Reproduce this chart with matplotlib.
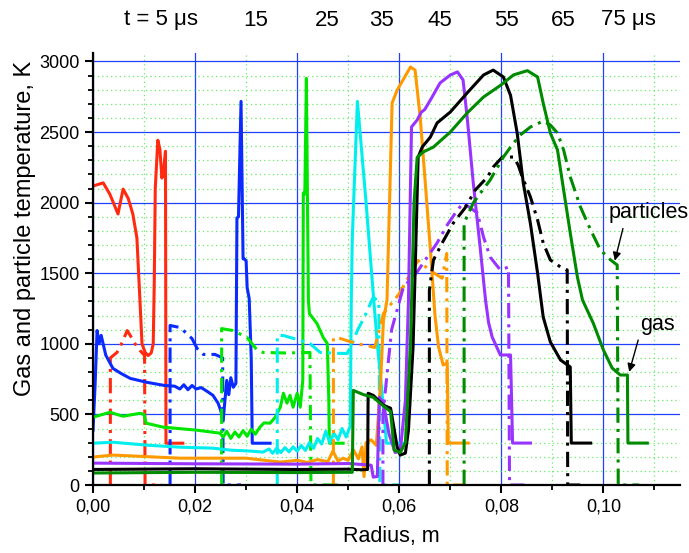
"""
Gas and particle temperature profiles vs radius at t = 5 ... 75 us.
gas = solid lines, particles = dash-dot lines
"""

import matplotlib
matplotlib.use("Agg")
import matplotlib.pyplot as plt
from matplotlib import font_manager
from matplotlib.ticker import MultipleLocator, FuncFormatter

plt.rcParams["font.family"] = ["Liberation Sans", "DejaVu Sans"]

# ---- data (radius in m, temperature in K) ----
times = ["5", "15", "25", "35", "45", "55", "65", "75"]
colors = ["#ff2a10", "#0a2aff", "#00e600", "#00eeee",
          "#ff9900", "#9933ff", "#000000", "#008a00"]

gas_x_05 = [0.0, 0.0020, 0.0033, 0.0049, 0.0059, 0.0069, 0.0078, 0.0086, 0.0092, 0.0096, 0.0102,
            0.0108, 0.0114, 0.0118, 0.0120, 0.0122, 0.0127, 0.0131, 0.0135, 0.0139, 0.0142,
            0.0143, 0.0176]
gas_T_05 = [2118, 2140, 2060, 1920, 2096, 2030, 1920, 1750, 1305, 1000, 940,
            917, 935, 1000, 1430, 2100, 2442, 2380, 2174, 2250, 2364,
            296, 296]
part_x_05 = [0.0034, 0.0034, 0.0047, 0.0057, 0.0067, 0.0073, 0.0082, 0.0092, 0.0101, 0.0102, 0.0135]
part_T_05 = [0, 900, 939, 1009, 1094, 1059, 1002, 953, 918, 0, 0]

gas_x_15 = [0.0, 0.0004, 0.0008, 0.0012, 0.0016, 0.0025, 0.0039, 0.0055, 0.0073, 0.0106, 0.0140,
            0.0160, 0.0170, 0.0178, 0.0186, 0.0194, 0.0202, 0.0212, 0.0225, 0.0235, 0.0245,
            0.0250, 0.0255, 0.0259, 0.0262, 0.0266, 0.0270, 0.0275, 0.0280, 0.0282, 0.0285,
            0.0290, 0.0294, 0.0297, 0.0300, 0.0302, 0.0306, 0.0310, 0.0312, 0.0347]
gas_T_15 = [388, 700, 1094, 1000, 1060, 920, 826, 790, 755, 727, 705,
            700, 680, 710, 675, 705, 680, 690, 660, 635, 580,
            530, 459, 620, 741, 640, 760, 692, 720, 1891, 1900,
            2717, 1602, 1600, 1588, 1398, 1320, 900, 296, 296]
part_x_15 = [0.0151, 0.0151, 0.0171, 0.0194, 0.0204, 0.0216, 0.0239, 0.0254, 0.0255, 0.0290]
part_T_15 = [0, 1130, 1115, 1037, 967, 925, 925, 900, 0, 0]

gas_x_25 = [0.0, 0.0033, 0.0059, 0.0092, 0.0100, 0.0104, 0.0137, 0.0204, 0.0249, 0.0255, 0.0262,
            0.0270, 0.0278, 0.0286, 0.0294, 0.0302, 0.0310, 0.0318, 0.0327, 0.0335, 0.0347,
            0.0357, 0.0367, 0.0373, 0.0380, 0.0386, 0.0392, 0.0400, 0.0406, 0.0411, 0.0412,
            0.0415, 0.0418, 0.0422, 0.0424, 0.0439, 0.0451, 0.0459, 0.0462, 0.0463, 0.0490]
gas_T_25 = [480, 515, 487, 508, 500, 438, 410, 388, 367, 339, 380,
            330, 375, 340, 385, 345, 395, 360, 410, 440, 438,
            480, 551, 650, 580, 635, 551, 650, 551, 741, 2068,
            2060, 2880, 1306, 1214, 1143, 1045, 1002, 600, 296, 296]
part_x_25 = [0.0252, 0.0252, 0.0274, 0.0302, 0.0322, 0.0333, 0.0380, 0.0425, 0.0427, 0.0480]
part_T_25 = [0, 1108, 1094, 1045, 953, 939, 935, 939, 0, 0]

gas_x_35 = [0.0, 0.0039, 0.0106, 0.0170, 0.0235, 0.0269, 0.0310, 0.0333, 0.0345, 0.0352, 0.0360,
            0.0368, 0.0376, 0.0384, 0.0392, 0.0400, 0.0408, 0.0416, 0.0424, 0.0432, 0.0440,
            0.0448, 0.0456, 0.0464, 0.0472, 0.0480, 0.0488, 0.0496, 0.0504, 0.0506, 0.0508,
            0.0518, 0.0535, 0.0549, 0.0557, 0.0565, 0.0572, 0.0575, 0.0610]
gas_T_35 = [296, 303, 282, 268, 261, 247, 240, 233, 255, 225, 260,
            230, 265, 235, 270, 240, 280, 245, 300, 260, 330,
            290, 380, 300, 367, 320, 400, 340, 420, 1306, 1750,
            2717, 2000, 1355, 1000, 700, 420, 296, 296]
part_x_35 = [0.0361, 0.0361, 0.0373, 0.0406, 0.0425, 0.0445, 0.0484, 0.0498, 0.0510, 0.0518,
             0.0533, 0.0549, 0.0560, 0.0562, 0.0600]
part_T_35 = [0, 1059, 1059, 1024, 1002, 939, 932, 932, 1020, 1094,
             1200, 1330, 1300, 0, 0]

gas_x_45 = [0.0, 0.0039, 0.0170, 0.0300, 0.0367, 0.0400, 0.0420, 0.0440, 0.0460, 0.0470, 0.0480,
            0.0490, 0.0500, 0.0510, 0.0520, 0.0527, 0.0531, 0.0535, 0.0545, 0.0555, 0.0563,
            0.0569, 0.0576, 0.0586, 0.0596, 0.0622, 0.0631, 0.0641, 0.0651, 0.0661, 0.0670,
            0.0677, 0.0686, 0.0694, 0.0696, 0.0735]
gas_T_45 = [198, 212, 190, 190, 162, 175, 160, 180, 165, 240, 170,
            190, 175, 250, 185, 270, 60, 300, 320, 280, 700,
            1165, 1310, 2706, 2798, 2961, 2939, 2607, 2139, 1665, 1200,
            978, 850, 864, 297, 297]
part_x_45 = [0.0471, 0.0471, 0.0478, 0.0500, 0.0518, 0.0540, 0.0552, 0.0569, 0.0600, 0.0625,
             0.0637, 0.0660, 0.0684, 0.0693, 0.0694, 0.0725]
part_T_45 = [0, 1040, 1045, 1020, 1000, 985, 974, 1214, 1355, 1520,
             1590, 1520, 1465, 1640, 0, 0]

gas_x_55 = [0.0, 0.0204, 0.0400, 0.0500, 0.0529, 0.0545, 0.0549, 0.0557, 0.0561, 0.0569, 0.0580,
            0.0592, 0.0602, 0.0612, 0.0618, 0.0624, 0.0635, 0.0643, 0.0650, 0.0661, 0.0680,
            0.0700, 0.0714, 0.0725, 0.0733, 0.0745, 0.0759, 0.0769, 0.0775, 0.0782, 0.0798,
            0.0818, 0.0822, 0.0857]
gas_T_55 = [155, 150, 148, 152, 145, 140, 56, 60, 621, 580, 360,
            230, 240, 600, 1306, 2536, 2585, 2640, 2660, 2727, 2848,
            2904, 2926, 2869, 2607, 2139, 1665, 1310, 1150, 1048, 921,
            921, 297, 297]
part_x_55 = [0.0568, 0.0568, 0.0585, 0.0608, 0.0635, 0.0651, 0.0674, 0.0694, 0.0710, 0.0725,
             0.0753, 0.0765, 0.0778, 0.0798, 0.0814, 0.0816, 0.0845]
part_T_55 = [0, 500, 1100, 1400, 1509, 1594, 1714, 1842, 1927, 1998,
             1927, 1757, 1615, 1523, 1544, 0, 0]

gas_x_65 = [0.0, 0.0200, 0.0400, 0.0500, 0.0527, 0.0538, 0.0539, 0.0549, 0.0569, 0.0583, 0.0596,
            0.0602, 0.0612, 0.0618, 0.0627, 0.0631, 0.0637, 0.0645, 0.0661, 0.0674, 0.0700,
            0.0733, 0.0765, 0.0784, 0.0804, 0.0818, 0.0831, 0.0843, 0.0857, 0.0871, 0.0882,
            0.0896, 0.0916, 0.0935, 0.0937, 0.0975]
gas_T_65 = [110, 115, 110, 112, 108, 110, 650, 635, 565, 544, 268,
            212, 226, 388, 974, 1500, 2323, 2394, 2465, 2564, 2642,
            2777, 2904, 2939, 2890, 2760, 2493, 2139, 1850, 1500, 1190,
            1013, 885, 836, 297, 297]
part_x_65 = [0.0659, 0.0659, 0.0667, 0.0684, 0.0706, 0.0729, 0.0749, 0.0773, 0.0784, 0.0802,
             0.0824, 0.0833, 0.0841, 0.0857, 0.0871, 0.0882, 0.0896, 0.0916, 0.0929, 0.0930, 0.0965]
part_T_65 = [0, 1380, 1594, 1714, 1856, 1963, 2090, 2182, 2252, 2323,
             2323, 2266, 2182, 2040, 1877, 1714, 1594, 1544, 1523, 0, 0]

gas_x_75 = [0.0, 0.0200, 0.0400, 0.0500, 0.0508, 0.0510, 0.0530, 0.0549, 0.0569, 0.0583, 0.0590,
            0.0602, 0.0612, 0.0622, 0.0629, 0.0635, 0.0647, 0.0667, 0.0700, 0.0733, 0.0765,
            0.0798, 0.0824, 0.0851, 0.0871, 0.0882, 0.0896, 0.0910, 0.0922, 0.0935, 0.0949,
            0.0959, 0.0980, 0.1000, 0.1017, 0.1033, 0.1047, 0.1048, 0.1086]
gas_T_75 = [85, 90, 88, 90, 90, 670, 640, 621, 560, 520, 247,
            230, 300, 1000, 2000, 2320, 2359, 2394, 2500, 2635, 2748,
            2830, 2905, 2935, 2890, 2705, 2493, 2373, 2090, 1785, 1473,
            1310, 1147, 956, 829, 779, 779, 297, 297]
part_x_75 = [0.0727, 0.0727, 0.0745, 0.0759, 0.0778, 0.0804, 0.0824, 0.0837, 0.0857, 0.0882,
             0.0896, 0.0910, 0.0922, 0.0935, 0.0955, 0.0975, 0.0994, 0.1014, 0.1027, 0.1029, 0.1070]
part_T_75 = [0, 1856, 1998, 2068, 2160, 2323, 2423, 2479, 2536, 2578,
             2550, 2493, 2373, 2182, 1969, 1806, 1665, 1594, 1558, 0, 0]

gas_series = [(gas_x_05, gas_T_05), (gas_x_15, gas_T_15), (gas_x_25, gas_T_25),
              (gas_x_35, gas_T_35), (gas_x_45, gas_T_45), (gas_x_55, gas_T_55),
              (gas_x_65, gas_T_65), (gas_x_75, gas_T_75)]
part_series = [(part_x_05, part_T_05), (part_x_15, part_T_15), (part_x_25, part_T_25),
               (part_x_35, part_T_35), (part_x_45, part_T_45), (part_x_55, part_T_55),
               (part_x_65, part_T_65), (part_x_75, part_T_75)]

# labels above the plot (px position across the 689 px wide figure)
top_labels = ["t = 5 \u03bcs", "15", "25", "35", "45", "55", "65", "75 \u03bcs"]
top_label_px = [161, 256, 327, 381, 440, 506, 563, 628]


def narrow_family():
    # condensed font for the time labels if one is installed
    for name in ["Liberation Sans Narrow", "DejaVu Sans Condensed"]:
        try:
            font_manager.findfont(font_manager.FontProperties(family=name),
                                  fallback_to_default=False)
            return name
        except ValueError:
            pass
    return "Liberation Sans"


fig = plt.figure(figsize=(6.89, 5.53), dpi=100)
ax = fig.add_axes([93 / 689, 1 - 485 / 553, 587 / 689, 432 / 553])

for (gx, gT), (px, pT), c in zip(gas_series, part_series, colors):
    ax.plot(gx, gT, color=c, lw=2.2, solid_joinstyle="round")
    ax.plot(px, pT, color=c, lw=2.2, linestyle=(0, (5, 2, 1, 2)))

ax.set_xlim(0, 0.115)
ax.set_ylim(0, 3060)

ax.xaxis.set_major_locator(MultipleLocator(0.02))
ax.xaxis.set_minor_locator(MultipleLocator(0.01))
ax.yaxis.set_major_locator(MultipleLocator(500))
ax.yaxis.set_minor_locator(MultipleLocator(100))
ax.xaxis.set_major_formatter(FuncFormatter(lambda v, p: f"{v:.2f}".replace(".", ",")))

ax.set_axisbelow(True)
ax.grid(which="major", color="#2040ff", lw=0.9)
ax.grid(which="minor", color="#66ee66", lw=0.9, linestyle=(0, (1, 2.5)))

for side in ["top", "right"]:
    ax.spines[side].set_visible(False)
for side in ["left", "bottom"]:
    ax.spines[side].set_linewidth(1.6)

ax.tick_params(which="major", direction="out", length=6, width=1.5, labelsize=13)
ax.tick_params(which="minor", direction="out", length=3.5, width=1.3)

ax.set_xlabel("Radius, m", fontsize=15.5)
ax.xaxis.set_label_coords(0.508, -0.095)
ax.set_ylabel("Gas and particle temperature, K", fontsize=17)
ax.yaxis.set_label_coords(-0.097, 0.595)

fam = narrow_family()
for txt, xp in zip(top_labels, top_label_px):
    fig.text(xp / 689, 1 - 20 / 553, txt, ha="center", va="center",
             fontsize=16, family=fam)

ax.annotate("particles", xy=(0.1021, 1570), xytext=(0.1088, 1930),
            ha="center", va="center", fontsize=15.5,
            arrowprops=dict(arrowstyle="-|>", color="black", lw=1.0,
                            mutation_scale=12, relpos=(0.2, 0.0)))
ax.annotate("gas", xy=(0.1049, 782), xytext=(0.1105, 1140),
            ha="center", va="center", fontsize=15.5,
            arrowprops=dict(arrowstyle="-|>", color="black", lw=1.0,
                            mutation_scale=12, relpos=(0.0, 0.0)))

fig.savefig("out.png", dpi=100)
plt.close(fig)
